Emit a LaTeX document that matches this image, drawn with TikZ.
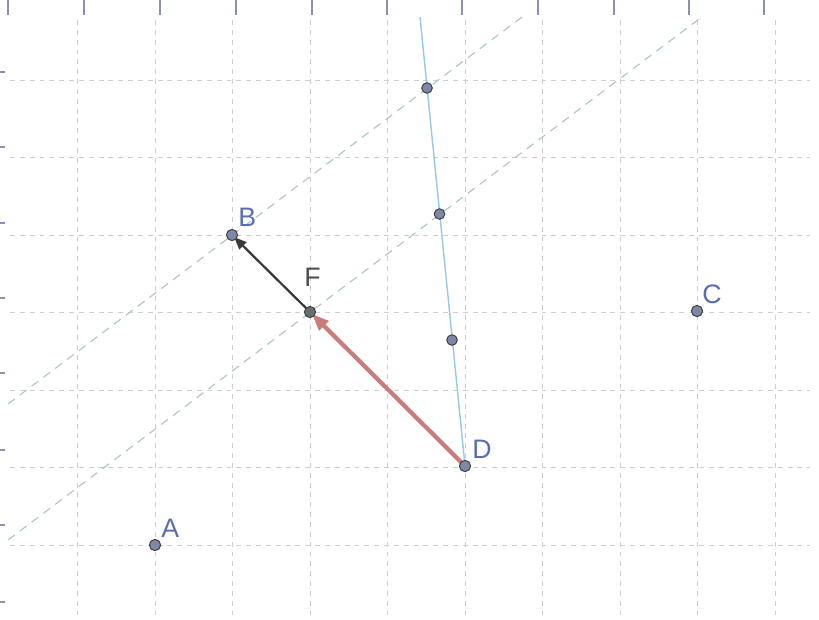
\documentclass[tikz,border=0pt]{standalone}
\usepackage{fontspec}
\setmainfont{Liberation Sans}
\usetikzlibrary{arrows.meta}
\definecolor{gridc}{HTML}{CFCFCF}
\definecolor{tickc}{HTML}{8A90AE}
\definecolor{diagc}{HTML}{AFC5C7}
\definecolor{bluel}{HTML}{95C9E6}
\definecolor{redv}{HTML}{C97C7C}
\definecolor{darkv}{HTML}{3A3A3A}
\definecolor{ptfill}{HTML}{7D87A6}
\definecolor{ptdark}{HTML}{6A6E72}
\definecolor{lblblue}{HTML}{5B6DB0}
\tikzset{
  gridline/.style={gridc, line width=0.6pt, dash pattern=on 3.5pt off 3.5pt},
  tickline/.style={tickc, line width=1pt},
  diagline/.style={diagc, line width=0.8pt, dash pattern=on 6pt off 4.5pt},
  bline/.style={bluel, line width=1pt},
  pt/.style={circle, fill=ptfill, draw=black!75, line width=0.7pt, inner sep=0pt, minimum size=8pt},
  ptd/.style={pt, fill=ptdark},
  lbl/.style={anchor=base west, inner sep=0pt, font=\fontsize{19}{21}\selectfont, text=lblblue},
  redvec/.style={redv, line width=3pt, -{Triangle[length=12pt,width=9pt]}, shorten >=2pt},
  darkvec/.style={darkv, line width=1.6pt, -{Triangle[length=9pt,width=7pt]}, shorten >=2pt}
}
\begin{document}
\begin{tikzpicture}[x=0.025cm, y=-0.025cm]
\useasboundingbox (0,0) rectangle (819,619);
% grid
\foreach \gx in {77.5,155,232.5,310,387.5,465,542.5,620,697.5,775}
  \draw[gridline] (\gx,20) -- (\gx,615);
\foreach \gy in {80,157.5,235,312.5,390,467.5,545}
  \draw[gridline] (10,\gy) -- (810,\gy);
% ticks
\foreach \tx in {8,84,160,236,312,387,462,538,614,689,764}
  \draw[tickline] (\tx,0) -- (\tx,15);
\foreach \ty in {72,147,223,298,373,450,525,602}
  \draw[tickline] (0,\ty) -- (5,\ty);
% points
\coordinate (A) at (155,545);
\coordinate (B) at (232,235);
\coordinate (C) at (697,311);
\coordinate (D) at (465,466);
\coordinate (F) at (310,312);
\coordinate (P1) at (427,88);
\coordinate (P2) at (439.5,214);
\coordinate (P3) at (452,340);
\coordinate (Ltop) at (420,17);
\coordinate (L1a) at (8,404);
\coordinate (L1b) at (522,17);
\coordinate (L2a) at (8,540);
\coordinate (L2b) at (703,16);
% dashed diagonals
\draw[diagline] (L1a) -- (L1b);
\draw[diagline] (L2a) -- (L2b);
% blue line
\draw[bline] (Ltop) -- (D);
% vectors
\draw[redvec] (D) -- (F);
\draw[darkvec] (F) -- (B);
% point markers
\node[pt] (nA) at (A) {};
\node[pt] (nB) at (B) {};
\node[pt] (nC) at (C) {};
\node[pt] (nD) at (D) {};
\node[ptd] (nF) at (F) {};
\node[pt, minimum size=7.5pt] (nP1) at (P1) {};
\node[pt, minimum size=7.5pt] (nP2) at (P2) {};
\node[pt, minimum size=7.5pt] (nP3) at (P3) {};
% labels
\node[lbl] (tA) at (161,537) {A};
\node[lbl] (tB) at (238,226) {B};
\node[lbl] (tC) at (702,303) {C};
\node[lbl] (tD) at (472,458) {D};
\node[lbl, text=darkv!90] (tF) at (304,286) {F};
\end{tikzpicture}
\end{document}
